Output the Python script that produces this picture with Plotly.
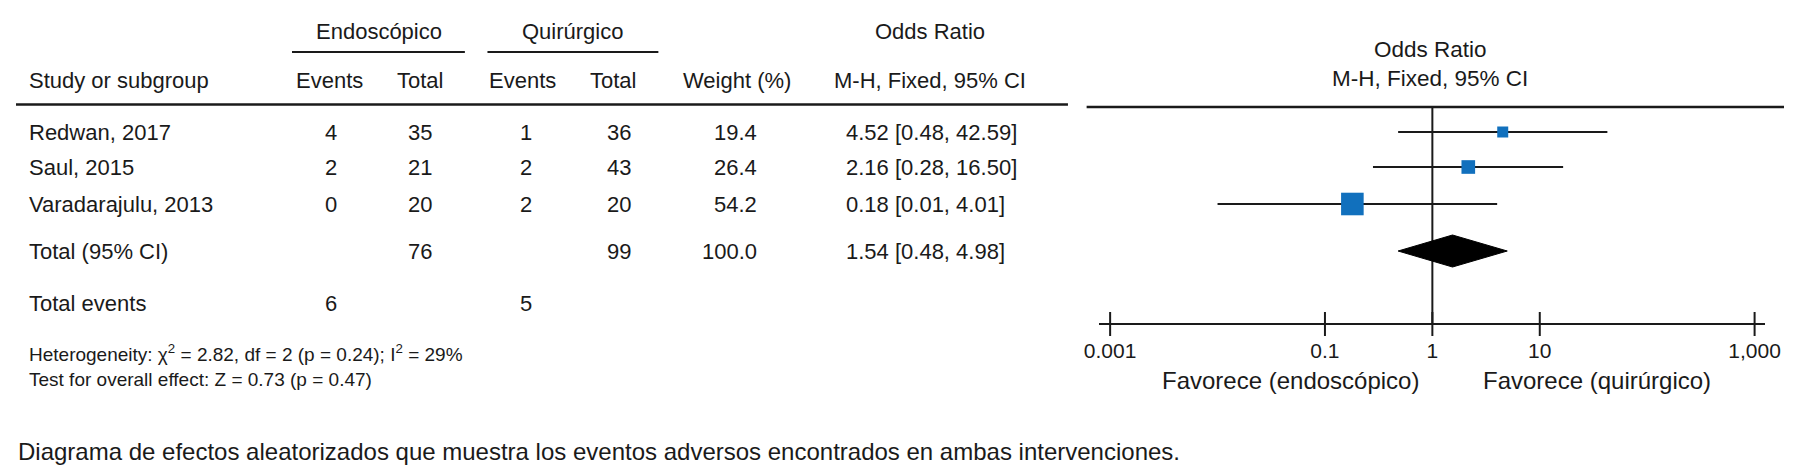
import plotly.graph_objects as go

# ---------------- data ----------------
studies = ["Redwan, 2017", "Saul, 2015", "Varadarajulu, 2013"]
events_endo = [4, 2, 0]
total_endo = [35, 21, 20]
events_quir = [1, 2, 2]
total_quir = [36, 43, 20]
weights = [19.4, 26.4, 54.2]
odds_ratio = [4.52, 2.16, 0.18]
ci_low = [0.48, 0.28, 0.01]
ci_high = [42.59, 16.50, 4.01]

pooled_label = "Total (95% CI)"
pooled_total_endo = 76
pooled_total_quir = 99
pooled_weight = 100.0
pooled_or = 1.54
pooled_low = 0.48
pooled_high = 4.98

total_events_label = "Total events"
total_events_endo = 6
total_events_quir = 5

heterogeneity = "Heterogeneity: χ<sup>2</sup> = 2.82, df = 2 (p = 0.24); I<sup>2</sup> = 29%"
overall_effect = "Test for overall effect: Z = 0.73 (p = 0.47)"
caption = ("Diagrama de efectos aleatorizados que muestra los eventos adversos "
           "encontrados en ambas intervenciones.")

tick_vals = [0.001, 0.1, 1, 10, 1000]
tick_text = ["0.001", "0.1", "1", "10", "1,000"]
fav_left = "Favorece (endoscópico)"
fav_right = "Favorece (quirúrgico)"

# ---------------- layout constants (pixels) ----------------
W, H = 1800, 467
FONT = "Liberation Sans, Arial, sans-serif"
INK = "#1a1a1a"
BLUE = "#1170bd"
row_y = [132, 167, 204]
pooled_y = 251
events_y = 303
axis_y = 324
top_y = 107
FS = 22          # table text
FS_FOREST = 22.5


def px(x):
    return x / W


fig = go.Figure()

# CI lines
cx, cy = [], []
for lo, hi, y in zip(ci_low, ci_high, row_y):
    cx += [lo, hi, None]
    cy += [y, y, None]
fig.add_trace(go.Scatter(x=cx, y=cy, mode="lines",
                         line=dict(color=INK, width=2), hoverinfo="skip"))

# vertical null line
fig.add_trace(go.Scatter(x=[1, 1], y=[top_y, axis_y], mode="lines",
                         line=dict(color=INK, width=2), hoverinfo="skip"))

# squares (size grows with study weight)
fig.add_trace(go.Scatter(x=odds_ratio, y=row_y, mode="markers",
                         marker=dict(symbol="square", color=BLUE, opacity=1,
                                     size=[1.38 * w ** 0.7 for w in weights],
                                     line=dict(width=0)),
                         hoverinfo="skip"))

# pooled diamond
fig.add_trace(go.Scatter(
    x=[pooled_low, pooled_or, pooled_high, pooled_or, pooled_low],
    y=[pooled_y, pooled_y - 16, pooled_y, pooled_y + 16, pooled_y],
    mode="lines", fill="toself", fillcolor="black",
    line=dict(color="black", width=1), hoverinfo="skip"))

# cross ticks on axis
tx, ty = [], []
for t in tick_vals:
    tx += [t, t, None]
    ty += [axis_y - 12, axis_y + 12, None]
fig.add_trace(go.Scatter(x=tx, y=ty, mode="lines",
                         line=dict(color=INK, width=2), hoverinfo="skip"))

ann = []


def txt(x, y, s, size=FS, xanchor="center"):
    ann.append(dict(x=px(x), y=y, xref="paper", yref="y", text=s,
                    showarrow=False, xanchor=xanchor, yanchor="middle",
                    borderpad=0,
                    font=dict(family=FONT, size=size, color=INK)))


# table headers
txt(370, 31, "Endoscópico")
txt(567, 31, "Quirúrgico")
txt(931, 31, "Odds Ratio")
txt(12, 80, "Study or subgroup", xanchor="left")
txt(319, 80, "Events")
txt(411, 80, "Total")
txt(516, 80, "Events")
txt(608, 80, "Total")
txt(734, 80, "Weight (%)")
txt(931, 80, "M-H, Fixed, 95% CI")

# study rows
for i, y in enumerate(row_y):
    txt(12, y, studies[i], xanchor="left")
    txt(321, y, str(events_endo[i]))
    txt(411, y, str(total_endo[i]))
    txt(519, y, str(events_quir[i]))
    txt(614, y, str(total_quir[i]))
    txt(755, y, f"{weights[i]:.1f}", xanchor="right")
    txt(844, y, f"{odds_ratio[i]:.2f} [{ci_low[i]:.2f}, {ci_high[i]:.2f}]", xanchor="left")

# pooled row
txt(12, pooled_y, pooled_label, xanchor="left")
txt(411, pooled_y, str(pooled_total_endo))
txt(614, pooled_y, str(pooled_total_quir))
txt(755, pooled_y, f"{pooled_weight:.1f}", xanchor="right")
txt(844, pooled_y, f"{pooled_or:.2f} [{pooled_low:.2f}, {pooled_high:.2f}]", xanchor="left")

# total events
txt(12, events_y, total_events_label, xanchor="left")
txt(321, events_y, str(total_events_endo))
txt(519, events_y, str(total_events_quir))

# footnotes
txt(12, 353, heterogeneity, size=19, xanchor="left")
txt(12, 379, overall_effect, size=19, xanchor="left")
txt(1, 451, caption, size=24, xanchor="left")

# forest headers and favour labels
txt(1440, 49, "Odds Ratio", size=FS_FOREST)
txt(1440, 78, "M-H, Fixed, 95% CI", size=FS_FOREST)
txt(1298, 380, fav_left, size=24)
txt(1610, 380, fav_right, size=24)

shapes = []


def hline(x0, x1, y, w=2.5):
    shapes.append(dict(type="line", xref="paper", yref="y",
                       x0=px(x0), x1=px(x1), y0=y, y1=y,
                       line=dict(color=INK, width=w)))


hline(281, 457, 52, 2)
hline(480, 654, 52, 2)
hline(0, 1071, 104.5)
hline(1090, 1800, 107)

fig.update_layout(
    width=W, height=H, autosize=False,
    margin=dict(l=0, r=0, t=0, b=0),
    paper_bgcolor="white", plot_bgcolor="white",
    showlegend=False,
    annotations=ann, shapes=shapes,
    xaxis=dict(type="log", range=[-3.1, 3.1],
               domain=[px(1103), px(1781)],
               anchor="free", position=1 - axis_y / H,
               showline=True, linecolor=INK, linewidth=2,
               ticks="", tickvals=tick_vals, ticktext=tick_text,
               tickfont=dict(family=FONT, size=21, color=INK),
               showgrid=False, zeroline=False, ticklabelstandoff=8),
    yaxis=dict(range=[H, 0], domain=[0, 1], visible=False,
               showgrid=False, zeroline=False),
)

fig.write_html(
    "out.html",
    config={"displayModeBar": False},
    post_script="document.body.style.margin='0';"
                "document.body.style.overflow='hidden';",
)
